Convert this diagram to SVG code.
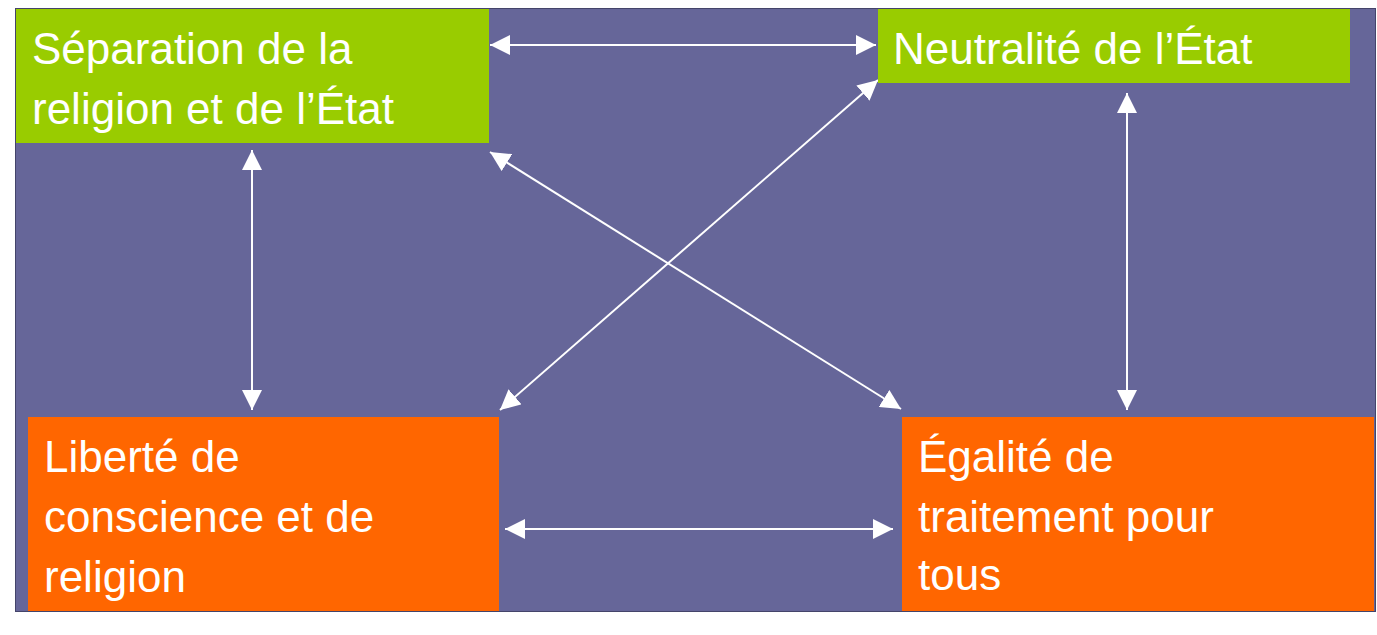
<svg xmlns="http://www.w3.org/2000/svg" width="1377" height="635" viewBox="0 0 1377 635">
<style>
.t{font-family:"Liberation Sans",Arial,sans-serif;font-size:44px;fill:#fff}
.c{stroke:#fff;stroke-width:2;fill:none;marker-start:url(#a);marker-end:url(#a)}
</style>
<defs><marker id="a" viewBox="0 0 10 10" refX="10" refY="5" markerWidth="10" markerHeight="10" markerUnits="userSpaceOnUse" orient="auto-start-reverse"><path d="M0,0L10,5L0,10z" fill="#fff"/></marker>
<marker id="a2" viewBox="0 0 10 10" refX="10" refY="5" markerWidth="10" markerHeight="10" orient="auto-start-reverse"><path d="M0,0L10,5L0,10z" fill="#fff"/></marker></defs>
<rect x="15.5" y="8.5" width="1360" height="603" fill="#666699" stroke="#44446a" stroke-width="1"/>
<g id="connectors" stroke="#fff" stroke-width="2" fill="none" marker-start="url(#a2)" marker-end="url(#a2)">
<line x1="490" y1="45" x2="876" y2="45"/>
<line x1="252" y1="150" x2="252" y2="410"/>
<line x1="1127" y1="93" x2="1127" y2="410"/>
<line x1="505" y1="529" x2="893" y2="529"/>
<line x1="490" y1="152" x2="901" y2="409"/>
<line x1="878" y1="80" x2="500" y2="410"/>
</g>
<g id="n1"><rect x="16" y="9" width="473" height="134" fill="#99cc00"/><text class="t" x="32" y="64">Séparation de la</text><text class="t" x="32" y="124">religion et de l’État</text></g>
<g id="n2"><rect x="878" y="9" width="472" height="74" fill="#99cc00"/><text class="t" x="893" y="64">Neutralité de l’État</text></g>
<g id="n3"><rect x="28" y="417" width="471" height="194" fill="#ff6600"/><text class="t" x="44" y="472">Liberté de</text><text class="t" x="44" y="532">conscience et de</text><text class="t" x="44" y="592">religion</text></g>
<g id="n4"><rect x="902" y="417" width="472" height="194" fill="#ff6600"/><text class="t" x="918" y="472">Égalité de</text><text class="t" x="918" y="532">traitement pour</text><text class="t" x="918" y="590">tous</text></g>
</svg>
